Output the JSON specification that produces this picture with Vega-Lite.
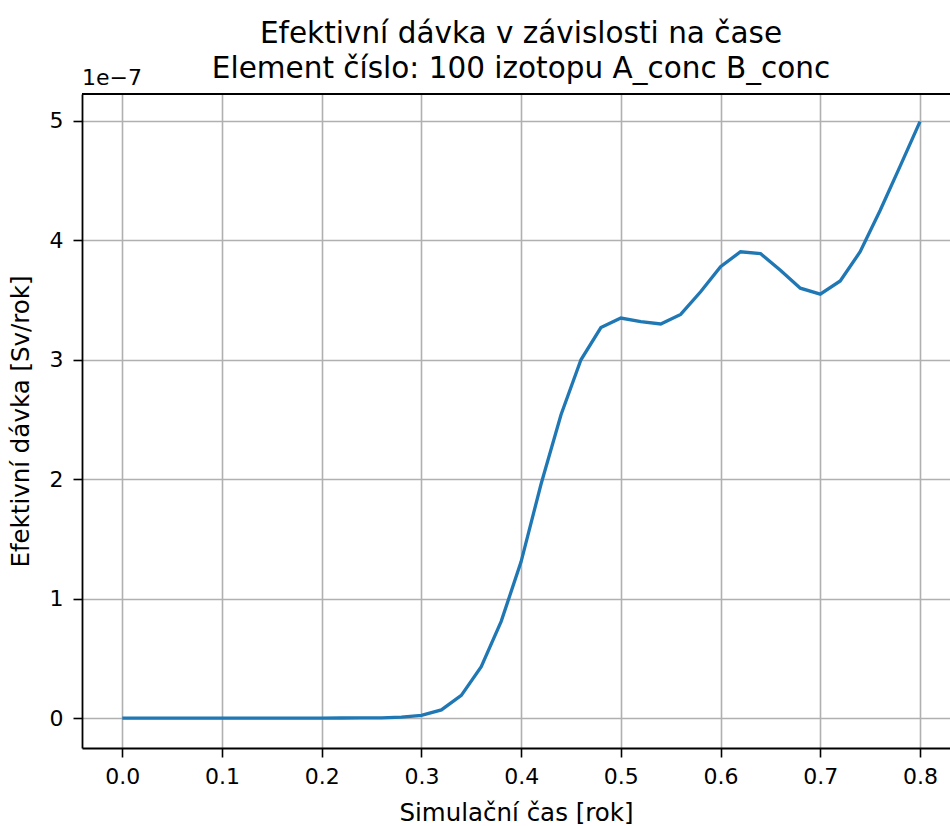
{
  "$schema": "https://vega.github.io/schema/vega-lite/v6.json",
  "width": 868,
  "height": 654,
  "autosize": {"type": "none"},
  "padding": {"left": 82, "top": 94, "right": 0, "bottom": 78},
  "background": "white",
  "config": {
    "font": "DejaVu Sans",
    "view": {"stroke": null},
    "axis": {
      "labelFont": "DejaVu Sans",
      "titleFont": "DejaVu Sans",
      "labelFontSize": 22,
      "titleFontSize": 24.5,
      "titleFontWeight": "normal",
      "labelColor": "#000000",
      "titleColor": "#000000",
      "domainColor": "#000000",
      "domainWidth": 1.8,
      "tickColor": "#000000",
      "tickWidth": 1.6,
      "tickSize": 9,
      "gridColor": "#b0b0b0",
      "gridWidth": 1.6,
      "gridOpacity": 1
    }
  },
  "title": {
    "text": ["Efektivní dávka v závislosti na čase", "Element číslo: 100 izotopu A_conc B_conc"],
    "fontSize": 29.5,
    "fontWeight": "normal",
    "color": "#000000",
    "font": "DejaVu Sans",
    "lineHeight": 35,
    "anchor": "middle",
    "dx": 5,
    "offset": -17
  },
  "data": {
    "values": [
      {"t": 0.00, "dose": 0},
      {"t": 0.02, "dose": 0},
      {"t": 0.04, "dose": 0},
      {"t": 0.06, "dose": 0},
      {"t": 0.08, "dose": 0},
      {"t": 0.10, "dose": 0},
      {"t": 0.12, "dose": 0},
      {"t": 0.14, "dose": 0},
      {"t": 0.16, "dose": 0},
      {"t": 0.18, "dose": 0},
      {"t": 0.20, "dose": 0},
      {"t": 0.22, "dose": 0.0001e-7},
      {"t": 0.24, "dose": 0.0005e-7},
      {"t": 0.26, "dose": 0.002e-7},
      {"t": 0.28, "dose": 0.007e-7},
      {"t": 0.30, "dose": 0.022e-7},
      {"t": 0.32, "dose": 0.068e-7},
      {"t": 0.34, "dose": 0.19e-7},
      {"t": 0.36, "dose": 0.43e-7},
      {"t": 0.38, "dose": 0.81e-7},
      {"t": 0.40, "dose": 1.31e-7},
      {"t": 0.42, "dose": 1.96e-7},
      {"t": 0.44, "dose": 2.54e-7},
      {"t": 0.46, "dose": 3.0e-7},
      {"t": 0.48, "dose": 3.27e-7},
      {"t": 0.50, "dose": 3.35e-7},
      {"t": 0.52, "dose": 3.32e-7},
      {"t": 0.54, "dose": 3.30e-7},
      {"t": 0.56, "dose": 3.38e-7},
      {"t": 0.58, "dose": 3.57e-7},
      {"t": 0.60, "dose": 3.78e-7},
      {"t": 0.62, "dose": 3.905e-7},
      {"t": 0.64, "dose": 3.89e-7},
      {"t": 0.66, "dose": 3.75e-7},
      {"t": 0.68, "dose": 3.60e-7},
      {"t": 0.70, "dose": 3.55e-7},
      {"t": 0.72, "dose": 3.66e-7},
      {"t": 0.74, "dose": 3.905e-7},
      {"t": 0.76, "dose": 4.25e-7},
      {"t": 0.78, "dose": 4.62e-7},
      {"t": 0.80, "dose": 4.995e-7}
    ]
  },
  "layer": [
    {
      "mark": {"type": "line", "color": "#1f77b4", "strokeWidth": 3.3, "clip": true},
      "encoding": {
        "x": {
          "field": "t",
          "type": "quantitative",
          "scale": {"domain": [-0.0404, 0.8301], "nice": false, "zero": false},
          "axis": {
            "title": "Simulační čas [rok]",
            "values": [0, 0.1, 0.2, 0.3, 0.4, 0.5, 0.6, 0.7, 0.8],
            "format": ".1f",
            "labelPadding": 9,
            "titlePadding": 14,
            "grid": true
          }
        },
        "y": {
          "field": "dose",
          "type": "quantitative",
          "scale": {"domain": [-0.251e-7, 5.226e-7], "nice": false, "zero": false},
          "axis": {
            "title": "Efektivní dávka [Sv/rok]",
            "values": [0, 1e-7, 2e-7, 3e-7, 4e-7, 5e-7],
            "labelExpr": "format(round(datum.value * 1e7), 'd')",
            "labelPadding": 10,
            "titlePadding": 16,
            "grid": true
          }
        }
      }
    },
    {
      "data": {"values": [{"top": 5.226e-7}]},
      "mark": {"type": "rule", "color": "#000000", "strokeWidth": 1.8},
      "encoding": {
        "y": {"field": "top", "type": "quantitative"}
      }
    },
    {
      "data": {"values": [{"tx": -0.0404, "ty": 5.226e-7, "label": "1e−7"}]},
      "mark": {"type": "text", "fontSize": 22, "font": "DejaVu Sans", "fontWeight": "normal", "align": "left", "baseline": "alphabetic", "dy": -9, "color": "#000000"},
      "encoding": {
        "x": {"field": "tx", "type": "quantitative"},
        "y": {"field": "ty", "type": "quantitative"},
        "text": {"field": "label"}
      }
    }
  ]
}
